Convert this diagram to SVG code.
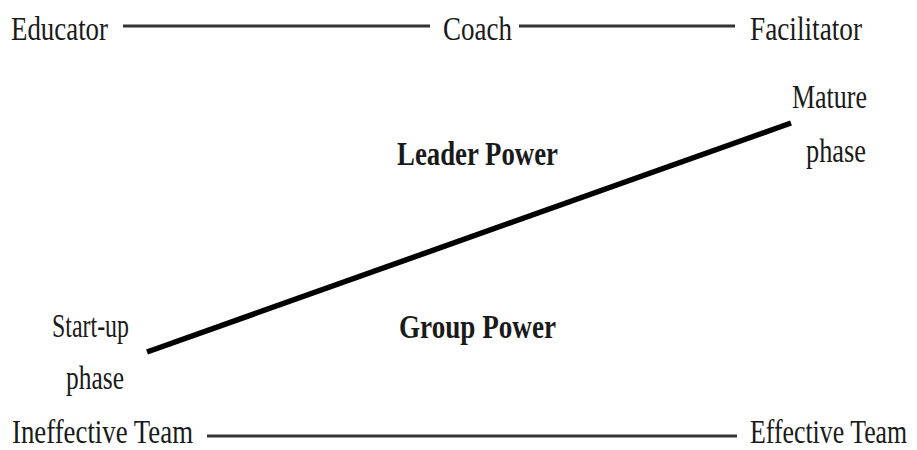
<svg xmlns="http://www.w3.org/2000/svg" width="917" height="450" viewBox="0 0 917 450">
<style>
text{font-family:"Liberation Serif","Times New Roman",serif;font-size:34px;fill:#1a1a1a}
.b{font-weight:bold}
.ln{stroke:#333;stroke-width:3;fill:none}
.dg{stroke:#000;stroke-width:5.5;fill:none}
</style>
<rect width="917" height="450" fill="#fff"/>
<g id="connectors">
<line class="ln" x1="123" y1="26" x2="430" y2="26"/>
<line class="ln" x1="519" y1="26" x2="735" y2="26"/>
<line class="ln" x1="207" y1="436" x2="737" y2="436"/>
<line class="dg" x1="147" y1="352" x2="791" y2="123"/>
</g>
<g id="educator"><text x="11" y="40" textLength="97" lengthAdjust="spacingAndGlyphs">Educator</text></g>
<g id="coach"><text x="443" y="40" textLength="69" lengthAdjust="spacingAndGlyphs">Coach</text></g>
<g id="facilitator"><text x="750" y="40" textLength="112" lengthAdjust="spacingAndGlyphs">Facilitator</text></g>
<g id="mature"><text x="792" y="108" textLength="75" lengthAdjust="spacingAndGlyphs">Mature</text><text x="806" y="162" textLength="60" lengthAdjust="spacingAndGlyphs">phase</text></g>
<g id="leader-power"><text class="b" x="397" y="165" textLength="161" lengthAdjust="spacingAndGlyphs">Leader Power</text></g>
<g id="group-power"><text class="b" x="399" y="338" textLength="157" lengthAdjust="spacingAndGlyphs">Group Power</text></g>
<g id="startup"><text x="52" y="337" textLength="77" lengthAdjust="spacingAndGlyphs">Start-up</text><text x="66" y="389" textLength="58" lengthAdjust="spacingAndGlyphs">phase</text></g>
<g id="ineffective"><text x="12" y="443" textLength="181" lengthAdjust="spacingAndGlyphs">Ineffective Team</text></g>
<g id="effective"><text transform="translate(750,443) scale(0.76,1)" x="0" y="0">Effective Team</text></g>
</svg>
